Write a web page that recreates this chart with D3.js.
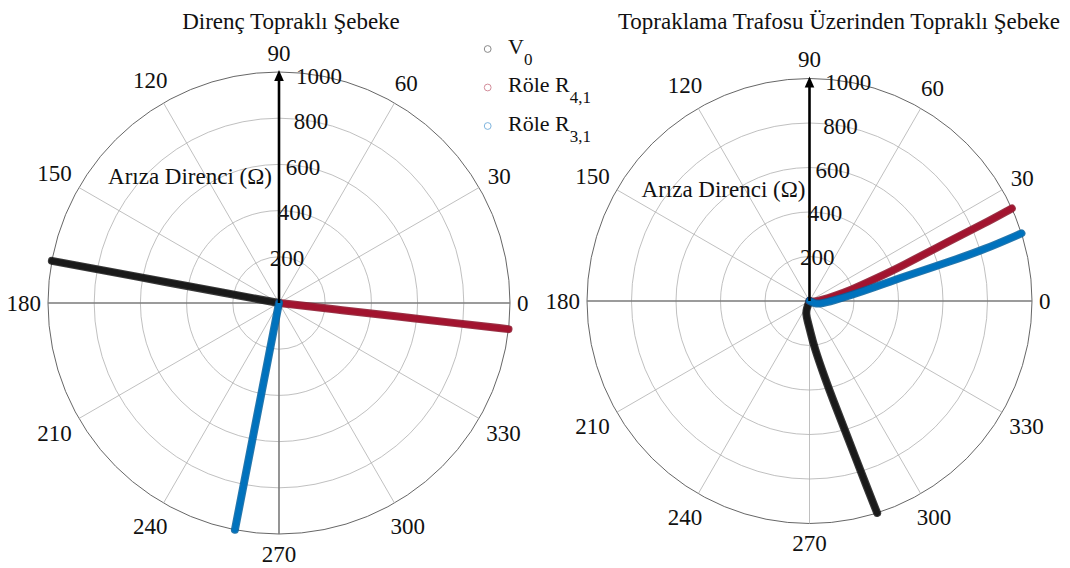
<!DOCTYPE html>
<html>
<head>
<meta charset="utf-8">
<script src="https://cdn.jsdelivr.net/npm/d3@7"></script>
<style>
  body { margin: 0; background: #fff; }
  text { font-family: "Liberation Serif", "Times New Roman", serif; fill: #111; }
</style>
</head>
<body>
<div id="chart"></div>
<script>
// grid ticks
const thetaTicks = [0, 30, 60, 90, 120, 150, 180, 210, 240, 270, 300, 330];
const rTicks = [200, 400, 600, 800, 1000];
const rMax = 1000;

// legend labels (main text + subscript)
const legendMain = ['V', 'Röle R', 'Röle R'];
const legendSub = ['0', '4,1', '3,1'];
const colors = ['#1a1a1a', '#a2142f', '#0072bd'];
const legendColors = ['#8a8a8a', '#d38d9a', '#7fb5de'];

const titles = ['Direnç Topraklı Şebeke', 'Topraklama Trafosu Üzerinden Topraklı Şebeke'];
const rLabel = 'Arıza Direnci (Ω)';

// left plot: fault resistance (Ω) vs angle (deg)
const leftR = [0, 250, 500, 750, 1000];
const leftV0Theta = [169.5, 169.5, 169.5, 169.5, 169.5];
const leftR41Theta = [353.5, 353.5, 353.5, 353.5, 353.5];
const leftR31Theta = [259, 259, 259, 259, 259];

// right plot
const rightV0R = [0, 38, 60, 90, 130, 206, 362, 462, 620, 889, 1000];
const rightV0Theta = [250, 249.4, 255, 264.3, 271, 275.6, 281.5, 283.5, 285.5, 287.2, 287.7];
const rightR41R = [0, 25, 50, 110, 190, 314, 436, 690, 860, 1000];
const rightR41Theta = [-20, -10, 3.6, 11, 14.6, 18.7, 20.5, 23.3, 23.9, 24.6];
const rightR31R = [0, 25, 50, 110, 186, 304, 423, 660, 818, 1000];
const rightR31Theta = [-30, -25, -15, 1.6, 7.9, 12, 14.4, 15.7, 16.4, 17.7];

const width = 1070, height = 568;
const svg = d3.select('#chart').append('svg')
  .attr('width', width).attr('height', height)
  .attr('font-family', '"Liberation Serif", "Times New Roman", serif');
svg.append('rect').attr('width', width).attr('height', height).attr('fill', '#fff');

const rad = d => d * Math.PI / 180;

function zip(rs, ths) { return rs.map((r, i) => ({r: r, t: ths[i]})); }

function drawPolar(cfg) {
  const g = svg.append('g').attr('transform', 'translate(' + cfg.cx + ',' + cfg.cy + ')');
  const R = cfg.R;
  const rScale = d3.scaleLinear().domain([0, rMax]).range([0, R]);

  // circles
  g.selectAll('.rgrid').data(rTicks).join('circle').attr('class', 'rgrid')
    .attr('r', d => rScale(d))
    .attr('fill', 'none')
    .attr('stroke', d => d === rMax ? '#555' : '#b0b0b0')
    .attr('stroke-width', d => d === rMax ? 0.9 : 0.8);

  // spokes
  g.selectAll('.tgrid').data(thetaTicks).join('line').attr('class', 'tgrid')
    .attr('x1', 0).attr('y1', 0)
    .attr('x2', d => R * Math.cos(rad(d)))
    .attr('y2', d => -R * Math.sin(rad(d)))
    .attr('stroke', d => cfg.dark.includes(d) ? '#7a7a7a' : '#b0b0b0')
    .attr('stroke-width', d => cfg.dark.includes(d) ? 1.6 : 0.8);

  // theta labels
  const tl = g.selectAll('.tlabel').data(thetaTicks).join('text').attr('class', 'tlabel')
    .attr('font-size', 23).attr('text-anchor', 'middle').attr('dy', '0.35em')
    .text(d => d);
  tl.each(function (d) {
    const w = this.getComputedTextLength();
    const c = Math.abs(Math.cos(rad(d))), s = Math.abs(Math.sin(rad(d)));
    const dist = R + 7 + 5 * s + c * w / 2 + s * 7.5;
    d3.select(this).attr('x', dist * Math.cos(rad(d))).attr('y', -dist * Math.sin(rad(d)));
  });

  // series
  const line = d3.line()
    .x(d => rScale(d.r) * Math.cos(rad(d.t)))
    .y(d => -rScale(d.r) * Math.sin(rad(d.t)))
    .curve(d3.curveBasis);
  cfg.series.forEach((s, i) => {
    g.append('path').datum(s).attr('d', line)
      .attr('fill', 'none').attr('stroke', d3.color(colors[i]).darker(0.5))
      .attr('stroke-width', 8).attr('stroke-linecap', 'round').attr('stroke-linejoin', 'round')
      .attr('stroke-opacity', 0.85);
    g.append('path').datum(s).attr('d', line)
      .attr('fill', 'none').attr('stroke', colors[i])
      .attr('stroke-width', 5.8).attr('stroke-linecap', 'round').attr('stroke-linejoin', 'round');
  });

  // arrow along 90 deg
  const tip = -(R + 2);
  g.append('line').attr('x1', 0).attr('y1', 0).attr('x2', 0).attr('y2', tip + 9)
    .attr('stroke', '#000').attr('stroke-width', 2.6);
  g.append('path')
    .attr('d', 'M0,' + tip + 'L-4.8,' + (tip + 11) + 'L4.8,' + (tip + 11) + 'Z')
    .attr('fill', '#000');

  // r labels at 80 deg
  g.selectAll('.rlabel').data(rTicks).join('text').attr('class', 'rlabel')
    .attr('font-size', 23).attr('text-anchor', 'middle').attr('dy', '0.35em')
    .attr('x', d => rScale(d) * Math.cos(rad(80)))
    .attr('y', d => -rScale(d) * Math.sin(rad(80)))
    .text(d => d);

  g.append('text').attr('font-size', 23).attr('text-anchor', 'end')
    .attr('x', cfg.labelDx).attr('y', cfg.labelDy).text(rLabel);

  svg.append('text').attr('font-size', 23).attr('text-anchor', 'middle')
    .attr('x', cfg.titleX).attr('y', 29).text(cfg.title);
}

drawPolar({
  cx: 279, cy: 303, R: 231, dark: [0, 180, 270],
  series: [zip(leftR, leftV0Theta), zip(leftR, leftR41Theta), zip(leftR, leftR31Theta)],
  labelDx: -7, labelDy: -119, title: titles[0], titleX: 291
});
drawPolar({
  cx: 809.5, cy: 301, R: 222.5, dark: [0, 180],
  series: [zip(rightV0R, rightV0Theta), zip(rightR41R, rightR41Theta), zip(rightR31R, rightR31Theta)],
  labelDx: -4, labelDy: -104, title: titles[1], titleX: 839
});

// legend
const lg = svg.append('g');
legendMain.forEach((t, i) => {
  const y = 49 + i * 38.5;
  lg.append('circle').attr('cx', 487.7).attr('cy', y).attr('r', 3.4)
    .attr('fill', 'none').attr('stroke', legendColors[i]).attr('stroke-width', 1);
  const tx = lg.append('text').attr('x', 508).attr('y', y + 4.5).attr('font-size', 22);
  tx.append('tspan').text(t);
  tx.append('tspan').attr('font-size', 17).attr('dy', 11).text(legendSub[i]);
});
</script>
</body>
</html>
